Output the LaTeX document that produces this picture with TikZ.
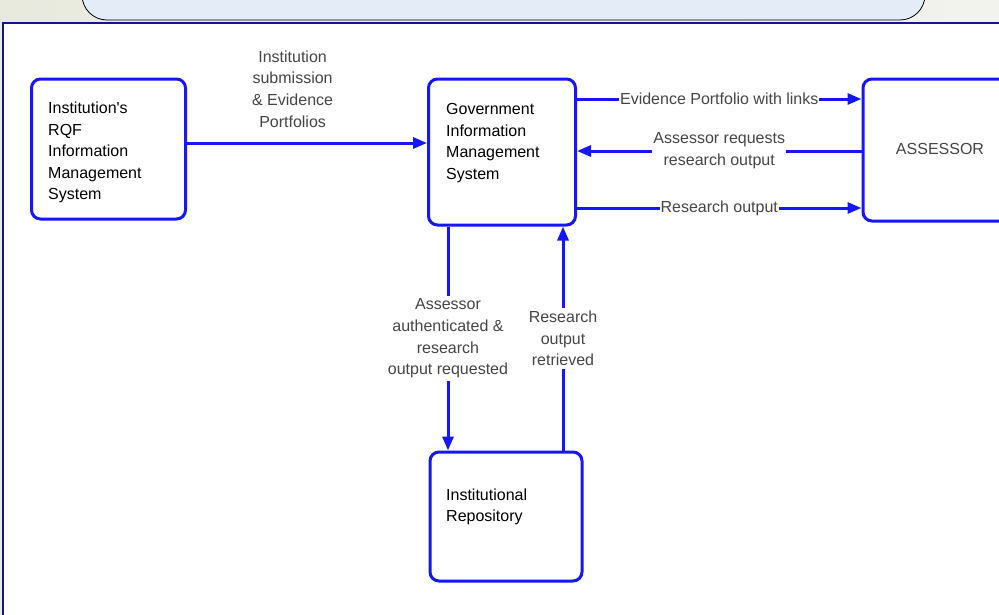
\documentclass[tikz,border=0pt]{standalone}
\usepackage{fontspec}
\setmainfont{Liberation Sans}
\usetikzlibrary{arrows.meta}
\definecolor{flowblue}{RGB}{22,22,250}
\definecolor{panelnavy}{RGB}{20,20,140}
\definecolor{topblue}{RGB}{228,236,247}
\definecolor{bgleft}{RGB}{232,234,222}
\definecolor{bgright}{RGB}{242,243,237}
\definecolor{labelgrey}{RGB}{70,70,70}
\tikzset{
  sysbox/.style={draw=flowblue, line width=3pt, rounded corners=9pt, fill=white, inner sep=0pt},
  boxtext/.style={anchor=north west, align=left, inner sep=0pt, text=black,
    font=\fontsize{16}{21.5}\selectfont},
  flowlabel/.style={fill=white, inner xsep=1pt, inner ysep=3pt, align=center, text=labelgrey,
    font=\fontsize{16}{21.7}\selectfont},
  flow/.style={draw=flowblue, line width=3pt, -{Triangle[length=14pt,width=11pt]}}
}
\begin{document}
\begin{tikzpicture}[x=1pt,y=-1pt]
\useasboundingbox (0,0) rectangle (999,614);
\fill[left color=bgleft, right color=bgright] (0,0) rectangle (999,614);
\draw[fill=topblue, line width=0.8pt, rounded corners=25pt] (82,-60) rectangle (925,20);
\draw[panelnavy, line width=2pt, fill=white] (2.5,23) rectangle (1010,630);

\node[sysbox, minimum width=154pt, minimum height=140pt] (irqf) at (108.5,149) {};
\node[boxtext] (irqf-text) at (48,102) {Institution\textquotesingle s\\RQF\\Information\\Management\\System};
\node[sysbox, minimum width=147pt, minimum height=146pt] (gims) at (502,152) {};
\node[boxtext] (gims-text) at (446,103.5) {Government\\Information\\Management\\System};
\node[sysbox, minimum width=170pt, minimum height=142pt] (assessor) at (948,150) {};
\node[text=labelgrey, font=\fontsize{16}{20}\selectfont] (assessor-text) at (940,149) {ASSESSOR};
\node[sysbox, minimum width=152pt, minimum height=129pt] (repo) at (506,516.5) {};
\node[boxtext] (repo-text) at (446,488.5) {Institutional\\Repository};

\draw[flow] ([yshift=6pt]irqf.east) -- ([yshift=6pt]irqf.east -| gims.west)
  node[flowlabel, fill=none, inner sep=0pt, above=14pt, pos=0.44] (ingest-label)
  {Institution\\submission\\\& Evidence\\Portfolios};
\draw[flow] ([yshift=53pt]gims.east) -- ([yshift=53pt]gims.east -| assessor.west)
  node[flowlabel, midway] (portfolio-label) {Evidence Portfolio with links};
\draw[flow] ([yshift=-1pt]assessor.west) -- ([yshift=-1pt]assessor.west -| gims.east)
  node[flowlabel, midway] (request-label) {Assessor requests\\research output};
\draw[flow] ([yshift=-56pt]gims.east) -- ([yshift=-56pt]gims.east -| assessor.west)
  node[flowlabel, midway] (output-label) {Research output};
\draw[flow] ([xshift=-54pt]gims.south) -- ([xshift=-54pt]gims.south |- repo.north)
  node[flowlabel, midway] (auth-label) {Assessor\\authenticated \&\\research\\output requested};
\draw[flow] ([xshift=61pt]gims.south |- repo.north) -- ([xshift=61pt]gims.south)
  node[flowlabel, midway] (retrieved-label) {Research\\output\\retrieved};
\end{tikzpicture}
\end{document}
